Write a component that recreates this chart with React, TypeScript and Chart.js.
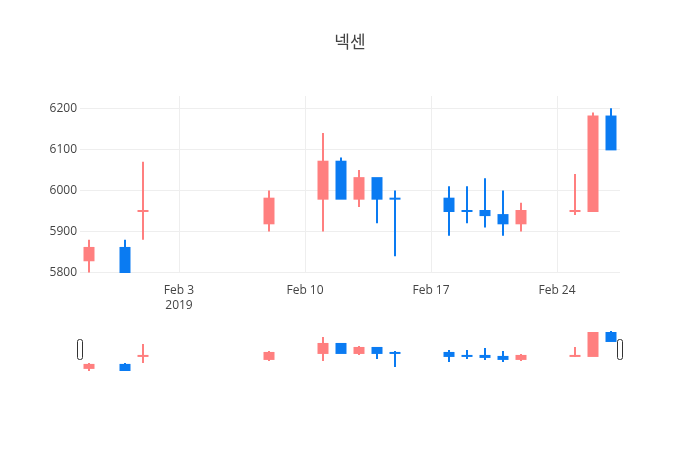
import React, { useEffect, useRef } from "react";
import Chart from "chart.js/auto";

const title = "넥센";
const dates = [
	"2019-01-29", "2019-01-31", "2019-02-01", "2019-02-08", "2019-02-11", "2019-02-12",
	"2019-02-13", "2019-02-14", "2019-02-15", "2019-02-18", "2019-02-19", "2019-02-20",
	"2019-02-21", "2019-02-22", "2019-02-25", "2019-02-26", "2019-02-27",
];
const openPrices = [5830, 5860, 5950, 5920, 5980, 6070, 5980, 6030, 5980, 5980, 5950, 5950, 5940, 5920, 5950, 5950, 6180];
const highPrices = [5880, 5880, 6070, 6000, 6140, 6080, 6050, 6030, 6000, 6010, 6010, 6030, 6000, 5970, 6040, 6190, 6200];
const lowPrices = [5800, 5800, 5880, 5900, 5900, 5980, 5960, 5920, 5840, 5890, 5920, 5910, 5890, 5900, 5940, 5950, 6100];
const closePrices = [5860, 5800, 5950, 5980, 6070, 5980, 6030, 5980, 5980, 5950, 5950, 5940, 5920, 5950, 5950, 6180, 6100];

const xTickDates = ["2019-02-03", "2019-02-10", "2019-02-17", "2019-02-24"];
const xTickLabels: (string | string[])[] = [["Feb 3", "2019"], "Feb 10", "Feb 17", "Feb 24"];
const yTicks = [5800, 5900, 6000, 6100, 6200];

const UP = "#FF7F7F";
const DOWN = "#0A7BF2";
const FONT = "'Open Sans', 'Noto Sans CJK KR', sans-serif";
const TEXT = "#444";

const toDay = (d: string) => Date.parse(d + "T00:00:00Z") / 86400000;
const days = dates.map(toDay);
const xMin = days[0] - 0.5;
const xMax = days[days.length - 1] + 0.5;
const yMin = 5799;
const yMax = 6230;

// open == close: compare with previous close, else keep previous direction
const increasing: boolean[] = [];
closePrices.forEach((c, i) => {
	const o = openPrices[i];
	if (c > o) increasing.push(true);
	else if (c < o) increasing.push(false);
	else if (i > 0 && c !== closePrices[i - 1]) increasing.push(c > closePrices[i - 1]);
	else increasing.push(i > 0 ? increasing[i - 1] : true);
});
const colors = increasing.map((up) => (up ? UP : DOWN));

const buildDatasets = (): any[] => [
	{
		label: "wick",
		data: days.map((x, i) => ({ x, y: [lowPrices[i], highPrices[i]] })),
		backgroundColor: colors,
		barThickness: 2,
		inflateAmount: 0,
		borderWidth: 0,
		grouped: false,
	},
	{
		label: "body",
		data: days.map((x, i) => ({ x, y: [openPrices[i], closePrices[i]] })),
		backgroundColor: colors,
		barThickness: 9,
		inflateAmount: 1,
		borderWidth: 0,
		grouped: false,
	},
];

// title centred on the whole page, not on the padded box
const titlePlugin = {
	id: "pageTitle",
	afterDraw(chart: any) {
		const { ctx, width } = chart;
		ctx.save();
		ctx.font = `17px ${FONT}`;
		ctx.fillStyle = TEXT;
		ctx.textAlign = "center";
		ctx.textBaseline = "middle";
		ctx.fillText(title, width / 2, 43);
		ctx.restore();
	},
};

const handlesPlugin = {
	id: "sliderHandles",
	afterDraw(chart: any) {
		const { ctx, chartArea } = chart;
		const cy = (chartArea.top + chartArea.bottom) / 2;
		ctx.save();
		[chartArea.left, chartArea.right].forEach((x: number) => {
			ctx.beginPath();
			ctx.roundRect(x - 2.5, cy - 10, 5, 20, 2);
			ctx.fillStyle = "#fff";
			ctx.fill();
			ctx.strokeStyle = "#333";
			ctx.lineWidth = 1;
			ctx.stroke();
		});
		ctx.restore();
	},
};

const CandleChart = () => {
	const mainRef = useRef<HTMLCanvasElement>(null);
	const sliderRef = useRef<HTMLCanvasElement>(null);

	useEffect(() => {
		if (!mainRef.current || !sliderRef.current) return;

		const main = new Chart(mainRef.current, {
			type: "bar",
			data: { datasets: buildDatasets() },
			options: {
				animation: false,
				responsive: true,
				maintainAspectRatio: false,
				layout: { padding: { left: 0, right: 80, top: 96, bottom: 0 } },
				plugins: {
					legend: { display: false },
					tooltip: { enabled: false },
					title: { display: false },
				},
				scales: {
					x: {
						type: "linear",
						min: xMin,
						max: xMax,
						offset: false,
						grid: { color: "#eee", drawTicks: false, offset: false },
						border: { display: false },
						afterBuildTicks: (scale: any) => {
							scale.ticks = xTickDates.map((d) => ({ value: toDay(d) }));
						},
						afterFit: (scale: any) => {
							scale.height = 47;
						},
						ticks: {
							autoSkip: false,
							maxRotation: 0,
							padding: 10,
							color: TEXT,
							font: { family: FONT, size: 12, lineHeight: 1.25 },
							callback: (_v: any, i: number) => xTickLabels[i],
						},
					},
					y: {
						min: yMin,
						max: yMax,
						grid: { color: "#eee", drawTicks: false },
						border: { display: false },
						afterBuildTicks: (scale: any) => {
							scale.ticks = yTicks.map((v) => ({ value: v }));
						},
						afterFit: (scale: any) => {
							scale.width = 80;
						},
						ticks: {
							padding: 3,
							color: TEXT,
							font: { family: FONT, size: 12 },
							callback: (v: any) => String(v),
						},
					},
				},
			} as any,
			plugins: [titlePlugin],
		});

		const slider = new Chart(sliderRef.current, {
			type: "bar",
			data: { datasets: buildDatasets() },
			options: {
				animation: false,
				responsive: true,
				maintainAspectRatio: false,
				layout: { padding: { left: 80, right: 80, top: 28, bottom: 29 } },
				plugins: {
					legend: { display: false },
					tooltip: { enabled: false },
				},
				scales: {
					x: { type: "linear", min: xMin, max: xMax, offset: false, display: false },
					y: { min: yMin, max: yMax, display: false },
				},
			} as any,
			plugins: [handlesPlugin],
		});

		return () => {
			main.destroy();
			slider.destroy();
		};
	}, []);

	return (
		<div style={{ position: "absolute", left: 0, top: 0, width: 700, height: 450, background: "#fff" }}>
			<div style={{ position: "absolute", left: 0, top: 0, width: 700, height: 320 }}>
				<canvas ref={mainRef} />
			</div>
			<div style={{ position: "absolute", left: 0, top: 300, width: 700, height: 100 }}>
				<canvas ref={sliderRef} />
			</div>
		</div>
	);
};

export default function App() {
	return <CandleChart />;
}
